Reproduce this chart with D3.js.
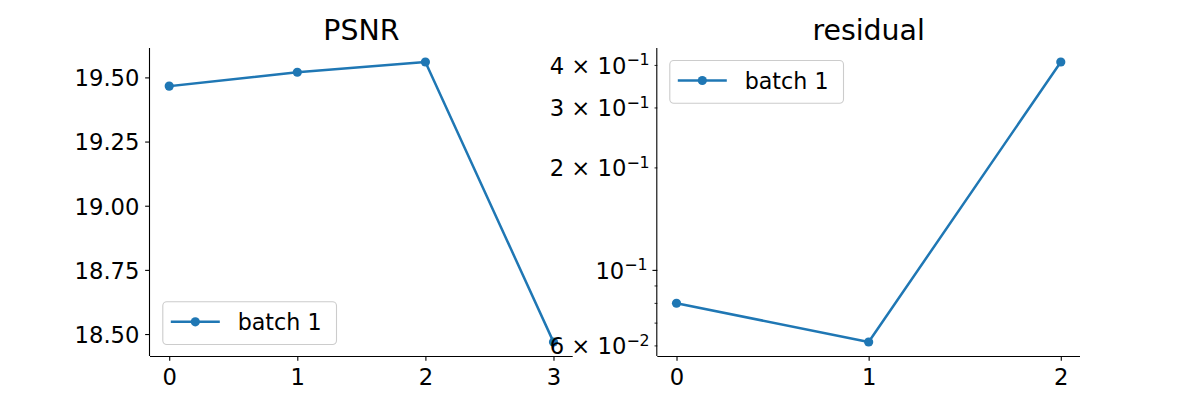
<!DOCTYPE html>
<html><head><meta charset="utf-8">
<script src="https://cdn.jsdelivr.net/npm/d3@7"></script>
<style>body{margin:0;background:#fff}svg{display:block}text{font-family:"DejaVu Sans",sans-serif;fill:#000}</style>
</head><body><svg id="c" width="1200" height="400"></svg>
<script>
// ---- data ----
const psnrX = [0, 1, 2, 3];
const psnrValues = [19.466, 19.52, 19.56, 18.469];
const residualX = [0, 1, 2];
const residualValues = [0.0798, 0.0614, 0.408];
const psnrTicks = [18.50, 18.75, 19.00, 19.25, 19.50];
const residualTicks = [0.06, 0.1, 0.2, 0.3, 0.4];
const residualTickMantissa = ["6", "", "2", "3", "4"];
const residualTickExponent = ["−2", "−1", "−1", "−1", "−1"];
const residualMinorTicks = [0.07, 0.08, 0.09];
const titles = ["PSNR", "residual"];
const seriesName = "batch 1";

const svg = d3.select("#c");
const color = "#1f77b4";
const yTop = 48, yBottom = 356;
const tickFont = 22.7, titleFont = 28.4, legendFont = 22.2;
const majorLen = 4.86, pad = 4.86;
const lineW = 2.5, markerR = 4.6;

function margin5(ext){const r=ext[1]-ext[0];return [ext[0]-0.05*r, ext[1]+0.05*r];}

function legend(g, lx, ly){
  const lg = g.append("g").attr("transform",`translate(${lx},${ly})`);
  lg.append("rect").attr("x",0.5).attr("y",0.5).attr("width",173.7).attr("height",42.7).attr("rx",4).attr("fill","#fff").attr("fill-opacity",0.8).attr("stroke","#cccccc").attr("stroke-width",1.1);
  lg.append("line").attr("x1",8.5).attr("x2",57.5).attr("y1",20.5).attr("y2",20.5).attr("stroke",color).attr("stroke-width",lineW);
  lg.append("circle").attr("cx",33).attr("cy",20.5).attr("r",markerR).attr("fill",color);
  lg.append("text").attr("x",75.4).attr("y",28.5).attr("font-size",legendFont).text(seriesName);
}

function panel(x0, x1, xs, title){
  const xd = margin5(d3.extent(xs));
  const x = d3.scaleLinear().domain(xd).range([x0, x1]);
  const g = svg.append("g");
  const xa = g.append("g").attr("transform", `translate(0,${yBottom})`)
    .call(d3.axisBottom(x).tickValues(xs).tickFormat(d3.format("d")).tickSize(majorLen).tickPadding(pad).tickSizeOuter(0));
  xa.select(".domain").attr("stroke","#000").attr("stroke-width",1.1).attr("d",`M${x0},0.5H${x1}`);
  xa.selectAll(".tick line").attr("stroke","#000").attr("stroke-width",1.1);
  xa.selectAll(".tick text").attr("font-size",tickFont).attr("dy",null).attr("y",29).attr("font-family","DejaVu Sans");
  g.append("text").attr("x",(x0+x1)/2).attr("y",yTop-8.3).attr("text-anchor","middle").attr("font-size",titleFont).text(title);
  return {x, g};
}

// ---- Left panel: PSNR ----
{
  const x0 = 150, x1 = 572.7;
  const y = d3.scaleLinear().domain(margin5(d3.extent(psnrValues))).range([yBottom, yTop]);
  const {x, g} = panel(x0, x1, psnrX, titles[0]);
  const ya = g.append("g").attr("transform",`translate(${x0},0)`)
    .call(d3.axisLeft(y).tickValues(psnrTicks).tickFormat(d3.format(".2f")).tickSize(majorLen).tickPadding(pad+0.8).tickSizeOuter(0));
  ya.select(".domain").attr("stroke","#000").attr("stroke-width",1.1).attr("d",`M-0.5,${yTop}V${yBottom}`);
  ya.selectAll(".tick line").attr("stroke","#000").attr("stroke-width",1.1);
  ya.selectAll(".tick text").attr("font-size",tickFont).attr("dy","0.37em").attr("font-family","DejaVu Sans");
  const line = d3.line().x((d,i)=>x(psnrX[i])).y(d=>y(d));
  g.append("path").datum(psnrValues).attr("d",line).attr("fill","none").attr("stroke",color).attr("stroke-width",lineW).attr("stroke-linejoin","round").attr("stroke-linecap","square");
  g.selectAll("circle.p").data(psnrValues).join("circle").attr("class","p").attr("cx",(d,i)=>x(psnrX[i])).attr("cy",d=>y(d)).attr("r",markerR).attr("fill",color);
  legend(g, x0+12.3, yBottom-12-42.7);
}

// ---- Right panel: residual (log) ----
{
  const x0 = 657.3, x1 = 1080;
  const le = d3.extent(residualValues).map(Math.log10);
  const lm = margin5(le);
  const y = d3.scaleLog().domain([Math.pow(10,lm[0]), Math.pow(10,lm[1])]).range([yBottom, yTop]);
  const {x, g} = panel(x0, x1, residualX, titles[1]);
  const ym = g.append("g").attr("transform",`translate(${x0},0)`)
    .call(d3.axisLeft(y).tickValues(residualMinorTicks).tickFormat("").tickSize(2.78).tickSizeOuter(0));
  ym.select(".domain").remove();
  ym.selectAll(".tick line").attr("stroke","#000").attr("stroke-width",0.83);
  const ya = g.append("g").attr("transform",`translate(${x0},0)`)
    .call(d3.axisLeft(y).tickValues(residualTicks).tickFormat(()=>"").tickSize(majorLen).tickPadding(pad).tickSizeOuter(0));
  ya.select(".domain").attr("stroke","#000").attr("stroke-width",1.1).attr("d",`M-0.5,${yTop}V${yBottom}`);
  ya.selectAll(".tick line").attr("stroke","#000").attr("stroke-width",(d)=>d===0.1?1.1:0.83).attr("x2",(d)=>d===0.1?-majorLen:-2.78);
  ya.selectAll(".tick").each(function(d){
    const i = residualTicks.indexOf(d);
    const isMajor = d===0.1;
    const t = d3.select(this).select("text").text(null)
      .attr("x", -(isMajor?majorLen:2.78)-pad).attr("dy",null).attr("y",8.3).attr("font-size",tickFont).attr("text-anchor","end").attr("font-family","DejaVu Sans");
    const m = residualTickMantissa[i];
    t.append("tspan").text(m ? m + " × 10" : "10");
    t.append("tspan").attr("dy",-8.5).attr("font-size",15.8).text(residualTickExponent[i]);
  });
  const line = d3.line().x((d,i)=>x(residualX[i])).y(d=>y(d));
  g.append("path").datum(residualValues).attr("d",line).attr("fill","none").attr("stroke",color).attr("stroke-width",lineW).attr("stroke-linejoin","round").attr("stroke-linecap","square");
  g.selectAll("circle.p").data(residualValues).join("circle").attr("class","p").attr("cx",(d,i)=>x(residualX[i])).attr("cy",d=>y(d)).attr("r",markerR).attr("fill",color);
  legend(g, x0+12, yTop+12);
}
</script></body></html>
